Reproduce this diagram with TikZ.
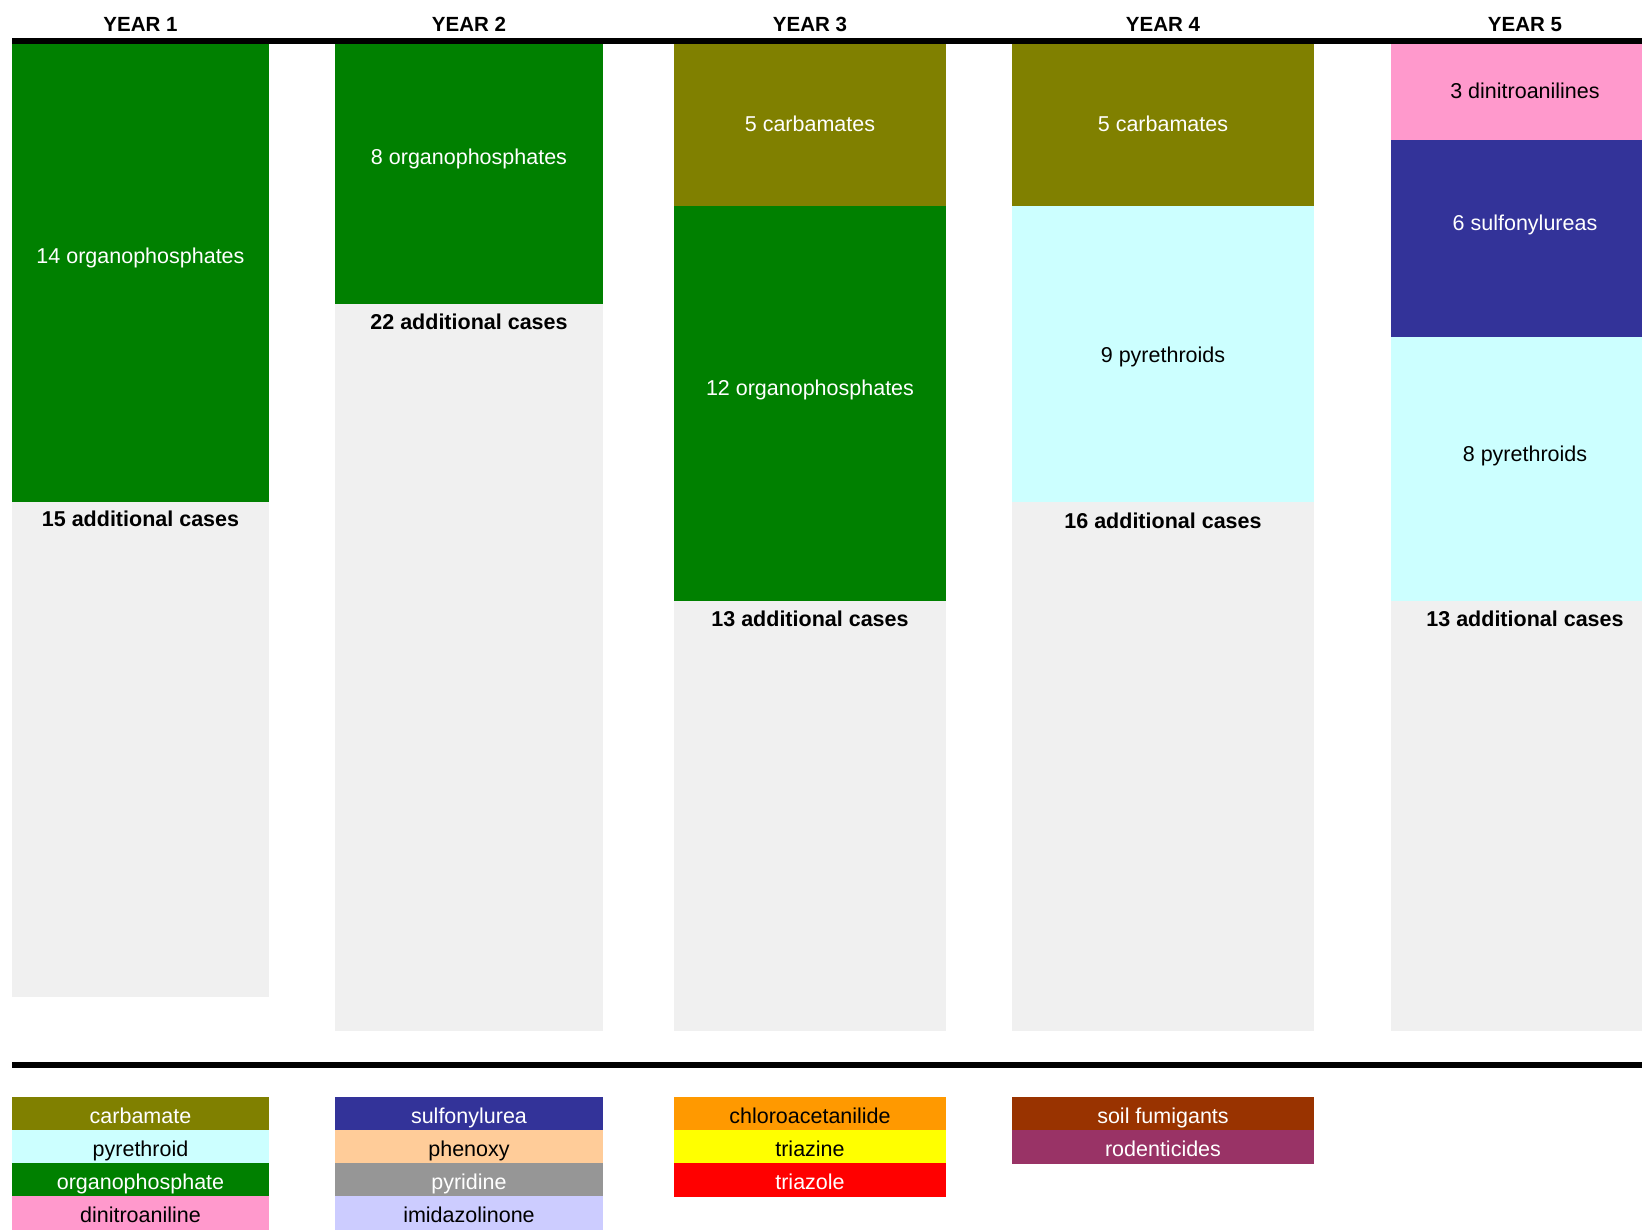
\documentclass[tikz,border=0pt]{standalone}
\usepackage{fontspec}
\setmainfont{Liberation Sans}
\definecolor{cOlive}{HTML}{808000}
\definecolor{cGreen}{HTML}{008000}
\definecolor{cCyan}{HTML}{CCFFFF}
\definecolor{cPink}{HTML}{FF99CC}
\definecolor{cBlue}{HTML}{333399}
\definecolor{cPeach}{HTML}{FFCC99}
\definecolor{cGray}{HTML}{969696}
\definecolor{cLav}{HTML}{CCCCFF}
\definecolor{cOrange}{HTML}{FF9900}
\definecolor{cYellow}{HTML}{FFFF00}
\definecolor{cRed}{HTML}{FF0000}
\definecolor{cBrown}{HTML}{993300}
\definecolor{cPlum}{HTML}{993366}
\definecolor{cDots}{HTML}{F0F0F0}
\begin{document}
\begin{tikzpicture}[x=1pt,y=-1pt,
  txt/.style={inner sep=0pt, anchor=base, font=\fontsize{21.5}{25}\selectfont},
  wtxt/.style={txt, text=white},
  btxt/.style={inner sep=0pt, anchor=base, font=\fontsize{21.5}{25}\selectfont\bfseries},
  hdr/.style={inner sep=0pt, anchor=base, font=\fontsize{20.5}{25}\selectfont\bfseries},
  rule/.style={fill=black},
  rest/.style={fill=cDots}
]
\useasboundingbox[fill=white] (0,0) rectangle (1642,1231);

% headers
\node[hdr] (h1) at (140.5,31.5) {YEAR 1};
\node[hdr] (h2) at (469,31.5) {YEAR 2};
\node[hdr] (h3) at (810,31.5) {YEAR 3};
\node[hdr] (h4) at (1163,31.5) {YEAR 4};
\node[hdr] (h5) at (1525,31.5) {YEAR 5};

% rules
\fill[rule] (12,37.7) rectangle (1642,43.7);
\fill[rule] (12,1062) rectangle (1642,1068);

% year 1
\fill[cGreen] (12,43.7) rectangle (269,501.7);
\fill[rest] (12,501.7) rectangle (269,997);
\node[wtxt] (y1a) at (140.5,263.3) {14 organophosphates};
\node[btxt] (y1r) at (140.5,526) {15 additional cases};

% year 2
\fill[cGreen] (335,43.7) rectangle (603,304);
\fill[rest] (335,304) rectangle (603,1030.5);
\node[wtxt] (y2a) at (469,164.3) {8 organophosphates};
\node[btxt] (y2r) at (469,329) {22 additional cases};

% year 3
\fill[cOlive] (674,43.7) rectangle (946,206);
\fill[cGreen] (674,206) rectangle (946,601);
\fill[rest] (674,601) rectangle (946,1030.5);
\node[wtxt] (y3a) at (810,131.7) {5 carbamates};
\node[wtxt] (y3b) at (810,395.7) {12 organophosphates};
\node[btxt] (y3r) at (810,626.5) {13 additional cases};

% year 4
\fill[cOlive] (1012,43.7) rectangle (1314,206);
\fill[cCyan] (1012,206) rectangle (1314,501.7);
\fill[rest] (1012,501.7) rectangle (1314,1030.5);
\node[wtxt] (y4a) at (1163,131.7) {5 carbamates};
\node[txt] (y4b) at (1163,362.3) {9 pyrethroids};
\node[btxt] (y4r) at (1163,528) {16 additional cases};

% year 5
\fill[cPink] (1391,43.7) rectangle (1642,140);
\fill[cBlue] (1391,140) rectangle (1642,336.7);
\fill[cCyan] (1391,336.7) rectangle (1642,601);
\fill[rest] (1391,601) rectangle (1642,1030.5);
\node[txt] (y5a) at (1525,98.3) {3 dinitroanilines};
\node[wtxt] (y5b) at (1525,230) {6 sulfonylureas};
\node[txt] (y5c) at (1525,461) {8 pyrethroids};
\node[btxt] (y5r) at (1525,626.5) {13 additional cases};

% legend column 1
\fill[cOlive] (12,1097) rectangle (269,1130);
\fill[cCyan] (12,1130) rectangle (269,1163);
\fill[cGreen] (12,1163) rectangle (269,1196);
\fill[cPink] (12,1196) rectangle (269,1229.5);
\node[wtxt] (l1a) at (140.5,1123) {carbamate};
\node[txt] (l1b) at (140.5,1156) {pyrethroid};
\node[wtxt] (l1c) at (140.5,1189) {organophosphate};
\node[txt] (l1d) at (140.5,1222) {dinitroaniline};

% legend column 2
\fill[cBlue] (335,1097) rectangle (603,1130);
\fill[cPeach] (335,1130) rectangle (603,1163);
\fill[cGray] (335,1163) rectangle (603,1196);
\fill[cLav] (335,1196) rectangle (603,1229.5);
\node[wtxt] (l2a) at (469,1123) {sulfonylurea};
\node[txt] (l2b) at (469,1156) {phenoxy};
\node[wtxt] (l2c) at (469,1189) {pyridine};
\node[txt] (l2d) at (469,1222) {imidazolinone};

% legend column 3
\fill[cOrange] (674,1097) rectangle (946,1130);
\fill[cYellow] (674,1130) rectangle (946,1163);
\fill[cRed] (674,1163) rectangle (946,1196.7);
\node[txt] (l3a) at (810,1123) {chloroacetanilide};
\node[txt] (l3b) at (810,1156) {triazine};
\node[wtxt] (l3c) at (810,1189) {triazole};

% legend column 4
\fill[cBrown] (1012,1097) rectangle (1314,1130);
\fill[cPlum] (1012,1130) rectangle (1314,1164);
\node[wtxt] (l4a) at (1163,1123) {soil fumigants};
\node[wtxt] (l4b) at (1163,1156) {rodenticides};
\end{tikzpicture}
\end{document}
